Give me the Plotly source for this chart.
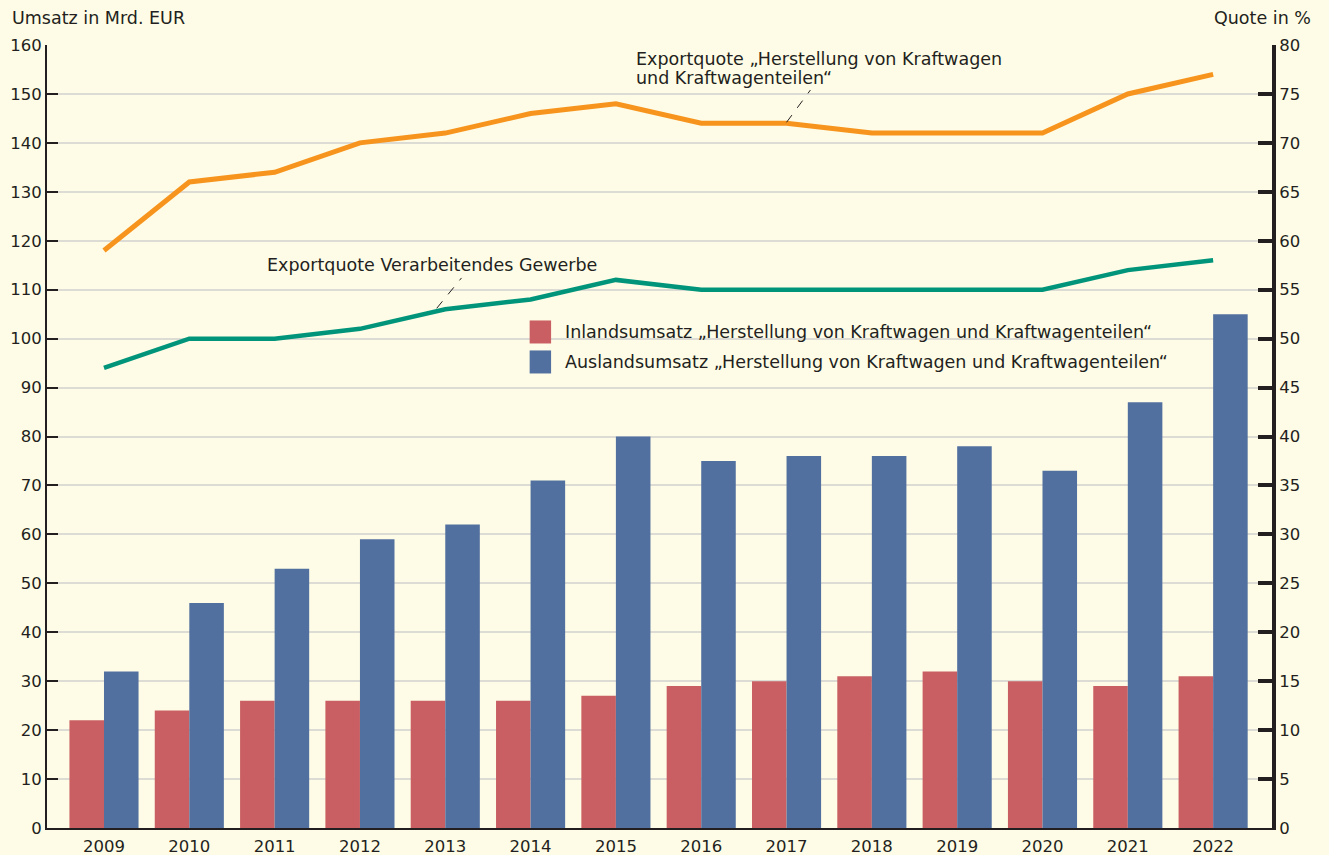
import plotly.graph_objects as go

years = ["2009", "2010", "2011", "2012", "2013", "2014", "2015", "2016", "2017", "2018", "2019", "2020", "2021", "2022"]
inland = [22, 24, 26, 26, 26, 26, 27, 29, 30, 31, 32, 30, 29, 31]
ausland = [32, 46, 53, 59, 62, 71, 80, 75, 76, 76, 78, 73, 87, 105]
quote_kfz = [59, 66, 67, 70, 71, 73, 74, 72, 72, 71, 71, 71, 75, 77]
quote_vg = [47, 50, 50, 51, 53, 54, 56, 55, 55, 55, 55, 55, 57, 58]

BG = "#FEFCE6"
RED = "#C95F62"
BLUE = "#52709F"
ORANGE = "#F7941D"
GREEN = "#00957B"
TXT = "#231F20"
FONT = "DejaVu Sans"
AFS = 17.5

fig = go.Figure()
fig.add_trace(go.Bar(x=years, y=inland, marker=dict(color=RED, line=dict(width=0)),
                     name="Inlandsumsatz", showlegend=False))
fig.add_trace(go.Bar(x=years, y=ausland, marker=dict(color=BLUE, line=dict(width=0)),
                     name="Auslandsumsatz", showlegend=False))
fig.add_trace(go.Scatter(x=years, y=quote_kfz, yaxis="y2", mode="lines",
                         line=dict(color=ORANGE, width=5), showlegend=False))
fig.add_trace(go.Scatter(x=years, y=quote_vg, yaxis="y2", mode="lines",
                         line=dict(color=GREEN, width=4.5), showlegend=False))

fig.update_layout(
    width=1329, height=855,
    paper_bgcolor=BG, plot_bgcolor=BG,
    margin=dict(l=47, r=57, t=45, b=27, autoexpand=False),
    barmode="group", bargap=0.19, bargroupgap=0,
    font=dict(family=FONT, size=16, color=TXT),
    xaxis=dict(type="category", range=[-0.668, 13.69], showline=True, linecolor=TXT,
               linewidth=2, ticks="", showgrid=False, tickfont=dict(size=16.5),
               ticklabelstandoff=2),
    yaxis=dict(range=[0, 160], dtick=10, showline=True, linecolor=TXT, linewidth=2,
               ticks="inside", ticklen=11, tickwidth=2, tickcolor=TXT,
               showgrid=True, gridcolor="#DCDCD4", gridwidth=2, zeroline=False,
               tickfont=dict(size=16.5)),
    yaxis2=dict(range=[0, 80], dtick=5, overlaying="y", side="right", showline=True,
                linecolor=TXT, linewidth=4, ticks="inside", ticklen=14, tickwidth=4,
                tickcolor=TXT, showgrid=False, zeroline=False, tickfont=dict(size=16.5)),
)

# axis titles
fig.add_annotation(text="Umsatz in Mrd. EUR", xref="paper", yref="paper", x=-0.0302, y=1.0345,
                   xanchor="left", yanchor="middle", showarrow=False, font=dict(size=AFS))
fig.add_annotation(text="Quote in %", xref="paper", yref="paper", x=1.0335, y=1.0345,
                   xanchor="right", yanchor="middle", showarrow=False, font=dict(size=AFS))

# line labels
fig.add_annotation(text="Exportquote „Herstellung von Kraftwagen", x=6.21, y=78.57, xref="x", yref="y2",
                   xanchor="left", yanchor="middle", showarrow=False, font=dict(size=AFS))
fig.add_annotation(text="und Kraftwagenteilen“", x=6.21, y=76.62, xref="x", yref="y2",
                   xanchor="left", yanchor="middle", showarrow=False, font=dict(size=AFS))
fig.add_annotation(text="Exportquote Verarbeitendes Gewerbe", x=1.89, y=57.5, xref="x", yref="y2",
                   xanchor="left", yanchor="middle", showarrow=False, font=dict(size=AFS))

# dashed leader lines
fig.add_shape(type="line", xref="x", yref="y2", x0=8.0, y0=72.1, x1=8.28, y1=75.4,
              line=dict(color=TXT, width=1, dash="dash"))
fig.add_shape(type="line", xref="x", yref="y2", x0=3.9, y0=53.1, x1=4.19, y1=56.2,
              line=dict(color=TXT, width=1, dash="dash"))

# custom legend
legend_items = [("Inlandsumsatz „Herstellung von Kraftwagen und Kraftwagenteilen“", RED, 0.6335),
                ("Auslandsumsatz „Herstellung von Kraftwagen und Kraftwagenteilen“", BLUE, 0.5952)]
for label, col, yc in legend_items:
    fig.add_shape(type="rect", xref="paper", yref="paper", x0=0.394, x1=0.4115,
                  y0=yc - 0.0147, y1=yc + 0.0147, fillcolor=col, line=dict(width=0))
    fig.add_annotation(text=label, xref="paper", yref="paper", x=0.4215, y=yc,
                       xanchor="left", yanchor="middle", showarrow=False, font=dict(size=AFS))

fig.write_html("out.html", config={"displayModeBar": False},
               post_script="document.body.style.margin='0px';")
